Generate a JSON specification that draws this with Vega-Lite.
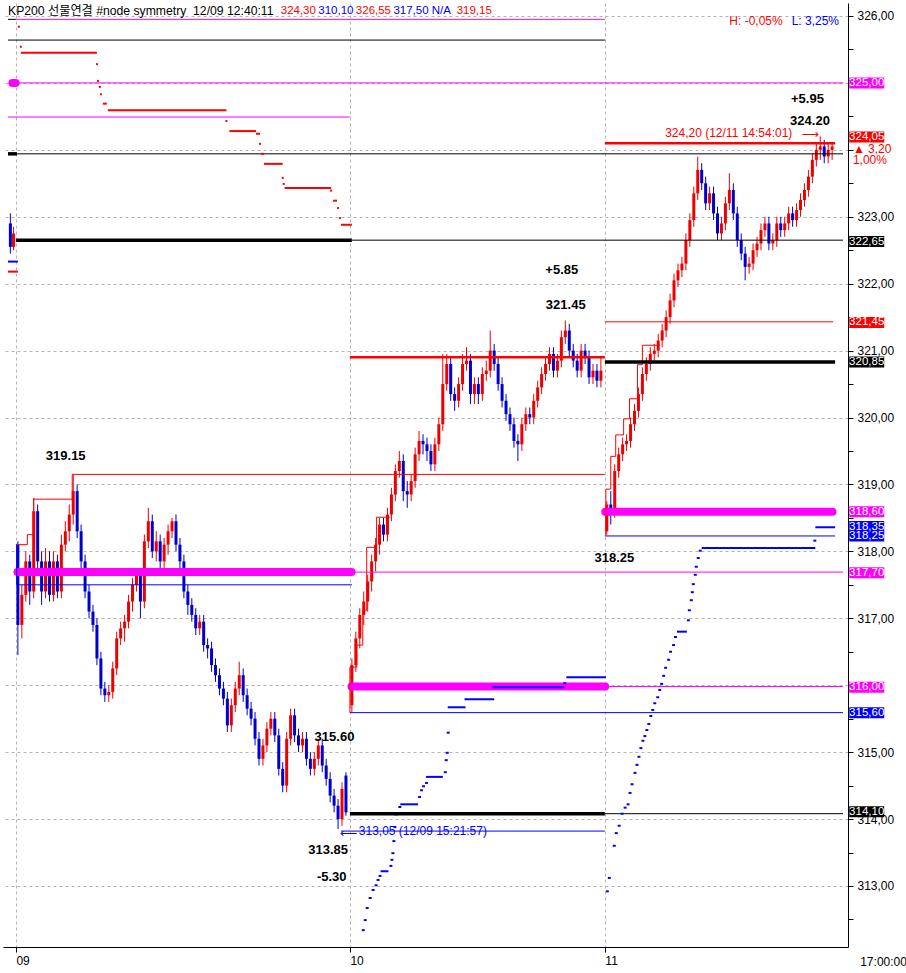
{
"$schema":"https://vega.github.io/schema/vega-lite/v6.json",
"width":845,"height":944,
"autosize":{"type":"none"},
"padding":{"left":3,"top":3,"right":58,"bottom":26},
"background":"white",
"config":{"view":{"stroke":null},"font":"Liberation Sans"},
"resolve":{"axis":{"x":"independent","y":"independent"}},
"datasets":{
"candles":[
{"x":-1.4,"o":322.90,"h":323.05,"l":322.45,"c":322.55},
{"x":-0.6,"o":322.55,"h":322.85,"l":322.50,"c":322.75},
{"x":0.5,"o":318.10,"h":318.15,"l":316.45,"c":316.90},
{"x":1.5,"o":316.90,"h":317.50,"l":316.70,"c":317.35},
{"x":2.5,"o":317.35,"h":318.00,"l":317.25,"c":317.85},
{"x":3.5,"o":317.85,"h":317.95,"l":317.20,"c":317.40},
{"x":4.5,"o":317.40,"h":318.80,"l":317.30,"c":318.60},
{"x":5.5,"o":318.60,"h":318.70,"l":317.70,"c":317.85},
{"x":6.5,"o":317.85,"h":318.00,"l":317.20,"c":317.40},
{"x":7.5,"o":317.40,"h":318.05,"l":317.30,"c":317.85},
{"x":8.5,"o":317.85,"h":318.00,"l":317.25,"c":317.35},
{"x":9.5,"o":317.35,"h":318.00,"l":317.25,"c":317.85},
{"x":10.5,"o":317.85,"h":317.95,"l":317.30,"c":317.40},
{"x":11.5,"o":317.40,"h":318.25,"l":317.30,"c":318.10},
{"x":12.5,"o":318.10,"h":318.45,"l":318.00,"c":318.30},
{"x":13.5,"o":318.30,"h":318.70,"l":318.15,"c":318.55},
{"x":14.5,"o":318.55,"h":319.15,"l":318.40,"c":318.90},
{"x":15.5,"o":318.90,"h":319.00,"l":318.20,"c":318.30},
{"x":16.5,"o":318.30,"h":318.40,"l":317.75,"c":317.85},
{"x":17.5,"o":317.85,"h":317.95,"l":317.30,"c":317.40},
{"x":18.5,"o":317.40,"h":317.50,"l":317.00,"c":317.10},
{"x":19.5,"o":317.10,"h":317.20,"l":316.80,"c":316.90},
{"x":20.5,"o":316.90,"h":317.00,"l":316.30,"c":316.40},
{"x":21.5,"o":316.40,"h":316.50,"l":315.85,"c":315.95},
{"x":22.5,"o":315.95,"h":316.05,"l":315.75,"c":315.85},
{"x":23.5,"o":315.85,"h":316.00,"l":315.75,"c":315.90},
{"x":24.5,"o":315.90,"h":316.35,"l":315.80,"c":316.25},
{"x":25.5,"o":316.25,"h":316.80,"l":316.15,"c":316.70},
{"x":26.5,"o":316.70,"h":316.95,"l":316.60,"c":316.85},
{"x":27.5,"o":316.85,"h":317.05,"l":316.65,"c":316.95},
{"x":28.5,"o":316.95,"h":317.35,"l":316.85,"c":317.25},
{"x":29.5,"o":317.25,"h":317.60,"l":317.10,"c":317.50},
{"x":30.5,"o":317.50,"h":317.75,"l":317.40,"c":317.65},
{"x":31.5,"o":317.65,"h":317.70,"l":317.00,"c":317.25},
{"x":32.5,"o":317.25,"h":318.25,"l":317.15,"c":318.15},
{"x":33.5,"o":318.15,"h":318.65,"l":318.05,"c":318.45},
{"x":34.5,"o":318.45,"h":318.55,"l":317.90,"c":318.00},
{"x":35.5,"o":318.00,"h":318.30,"l":317.85,"c":318.15},
{"x":36.5,"o":318.15,"h":318.25,"l":317.70,"c":317.85},
{"x":37.5,"o":317.85,"h":318.20,"l":317.75,"c":318.10},
{"x":38.5,"o":318.10,"h":318.40,"l":317.95,"c":318.30},
{"x":39.5,"o":318.30,"h":318.50,"l":318.20,"c":318.45},
{"x":40.5,"o":318.45,"h":318.55,"l":318.00,"c":318.10},
{"x":41.5,"o":318.10,"h":318.20,"l":317.75,"c":317.85},
{"x":42.5,"o":317.85,"h":317.95,"l":317.30,"c":317.40},
{"x":43.5,"o":317.40,"h":317.50,"l":317.05,"c":317.20},
{"x":44.5,"o":317.20,"h":317.30,"l":316.95,"c":317.05},
{"x":45.5,"o":317.05,"h":317.15,"l":316.75,"c":316.85},
{"x":46.5,"o":316.85,"h":317.05,"l":316.75,"c":316.95},
{"x":47.5,"o":316.95,"h":317.05,"l":316.50,"c":316.60},
{"x":48.5,"o":316.60,"h":316.70,"l":316.40,"c":316.55},
{"x":49.5,"o":316.55,"h":316.65,"l":316.20,"c":316.30},
{"x":50.5,"o":316.30,"h":316.40,"l":316.05,"c":316.15},
{"x":51.5,"o":316.15,"h":316.25,"l":315.85,"c":315.95},
{"x":52.5,"o":315.95,"h":316.05,"l":315.70,"c":315.80},
{"x":53.5,"o":315.80,"h":315.90,"l":315.30,"c":315.40},
{"x":54.5,"o":315.40,"h":315.80,"l":315.30,"c":315.70},
{"x":55.5,"o":315.70,"h":316.05,"l":315.60,"c":315.95},
{"x":56.5,"o":315.95,"h":316.35,"l":315.85,"c":316.15},
{"x":57.5,"o":316.15,"h":316.25,"l":315.75,"c":315.85},
{"x":58.5,"o":315.85,"h":315.95,"l":315.55,"c":315.65},
{"x":59.5,"o":315.65,"h":315.75,"l":315.40,"c":315.50},
{"x":60.5,"o":315.50,"h":315.60,"l":315.10,"c":315.20},
{"x":61.5,"o":315.20,"h":315.30,"l":314.80,"c":314.90},
{"x":62.5,"o":314.90,"h":315.20,"l":314.80,"c":315.10},
{"x":63.5,"o":315.10,"h":315.45,"l":315.00,"c":315.35},
{"x":64.5,"o":315.35,"h":315.60,"l":315.25,"c":315.50},
{"x":65.5,"o":315.50,"h":315.60,"l":315.15,"c":315.25},
{"x":66.5,"o":315.25,"h":315.35,"l":314.65,"c":314.75},
{"x":67.5,"o":314.75,"h":314.85,"l":314.40,"c":314.50},
{"x":68.5,"o":314.50,"h":315.30,"l":314.40,"c":315.20},
{"x":69.5,"o":315.20,"h":315.65,"l":315.10,"c":315.55},
{"x":70.5,"o":315.55,"h":315.65,"l":315.15,"c":315.25},
{"x":71.5,"o":315.25,"h":315.35,"l":315.00,"c":315.10},
{"x":72.5,"o":315.10,"h":315.30,"l":315.00,"c":315.20},
{"x":73.5,"o":315.20,"h":315.30,"l":314.80,"c":314.90},
{"x":74.5,"o":314.90,"h":315.00,"l":314.65,"c":314.75},
{"x":75.5,"o":314.75,"h":315.00,"l":314.65,"c":314.90},
{"x":76.5,"o":314.90,"h":315.20,"l":314.80,"c":315.10},
{"x":77.5,"o":315.10,"h":315.20,"l":314.70,"c":314.80},
{"x":78.5,"o":314.80,"h":314.90,"l":314.50,"c":314.60},
{"x":79.5,"o":314.60,"h":314.70,"l":314.25,"c":314.35},
{"x":80.5,"o":314.35,"h":314.45,"l":314.10,"c":314.20},
{"x":81.5,"o":314.20,"h":314.30,"l":313.85,"c":314.00},
{"x":82.5,"o":314.00,"h":314.55,"l":313.90,"c":314.45},
{"x":83.5,"o":314.65,"h":314.70,"l":314.05,"c":314.10},
{"x":85,"o":315.70,"h":316.40,"l":315.60,"c":316.30},
{"x":86,"o":316.30,"h":316.80,"l":316.20,"c":316.70},
{"x":87,"o":316.70,"h":317.15,"l":316.55,"c":317.05},
{"x":88,"o":317.05,"h":317.40,"l":316.90,"c":317.25},
{"x":89,"o":317.25,"h":317.65,"l":317.10,"c":317.55},
{"x":90,"o":317.55,"h":317.95,"l":317.40,"c":317.85},
{"x":91,"o":317.85,"h":318.20,"l":317.70,"c":318.10},
{"x":92,"o":318.10,"h":318.50,"l":317.95,"c":318.40},
{"x":93,"o":318.40,"h":318.50,"l":318.15,"c":318.25},
{"x":94,"o":318.25,"h":318.65,"l":318.15,"c":318.55},
{"x":95,"o":318.55,"h":318.95,"l":318.45,"c":318.85},
{"x":96,"o":318.85,"h":319.30,"l":318.75,"c":319.20},
{"x":97,"o":319.20,"h":319.50,"l":319.10,"c":319.35},
{"x":98,"o":319.35,"h":319.45,"l":318.75,"c":318.90},
{"x":99,"o":318.90,"h":319.05,"l":318.65,"c":318.85},
{"x":100,"o":318.85,"h":319.15,"l":318.75,"c":319.05},
{"x":101,"o":319.05,"h":319.55,"l":318.95,"c":319.45},
{"x":102,"o":319.45,"h":319.80,"l":319.35,"c":319.65},
{"x":103,"o":319.65,"h":319.75,"l":319.45,"c":319.60},
{"x":104,"o":319.60,"h":319.70,"l":319.35,"c":319.50},
{"x":105,"o":319.50,"h":319.60,"l":319.20,"c":319.30},
{"x":106,"o":319.30,"h":319.70,"l":319.20,"c":319.60},
{"x":107,"o":319.60,"h":320.00,"l":319.50,"c":319.90},
{"x":108,"o":319.90,"h":320.95,"l":319.80,"c":320.50},
{"x":109,"o":320.50,"h":320.95,"l":320.40,"c":320.80},
{"x":110,"o":320.80,"h":320.90,"l":320.25,"c":320.35},
{"x":111,"o":320.35,"h":320.45,"l":320.10,"c":320.25},
{"x":112,"o":320.25,"h":320.60,"l":320.15,"c":320.50},
{"x":113,"o":320.50,"h":320.95,"l":320.40,"c":320.80},
{"x":114,"o":320.80,"h":321.05,"l":320.70,"c":320.85},
{"x":115,"o":320.85,"h":320.95,"l":320.20,"c":320.35},
{"x":116,"o":320.35,"h":320.60,"l":320.20,"c":320.50},
{"x":117,"o":320.50,"h":320.60,"l":320.20,"c":320.35},
{"x":118,"o":320.35,"h":320.75,"l":320.25,"c":320.65},
{"x":119,"o":320.65,"h":320.85,"l":320.55,"c":320.70},
{"x":120,"o":320.70,"h":321.30,"l":320.60,"c":321.00},
{"x":121,"o":321.00,"h":321.10,"l":320.70,"c":320.80},
{"x":122,"o":320.80,"h":320.90,"l":320.40,"c":320.50},
{"x":123,"o":320.50,"h":320.60,"l":320.15,"c":320.25},
{"x":124,"o":320.25,"h":320.35,"l":319.95,"c":320.05},
{"x":125,"o":320.05,"h":320.15,"l":319.80,"c":319.90},
{"x":126,"o":319.90,"h":320.00,"l":319.55,"c":319.65},
{"x":127,"o":319.65,"h":319.75,"l":319.35,"c":319.60},
{"x":128,"o":319.60,"h":320.00,"l":319.50,"c":319.90},
{"x":129,"o":319.90,"h":320.15,"l":319.80,"c":320.05},
{"x":130,"o":320.05,"h":320.15,"l":319.90,"c":320.00},
{"x":131,"o":320.00,"h":320.35,"l":319.90,"c":320.25},
{"x":132,"o":320.25,"h":320.55,"l":320.15,"c":320.45},
{"x":133,"o":320.45,"h":320.75,"l":320.35,"c":320.65},
{"x":134,"o":320.65,"h":320.90,"l":320.55,"c":320.80},
{"x":135,"o":320.80,"h":321.05,"l":320.70,"c":320.95},
{"x":136,"o":320.95,"h":321.05,"l":320.60,"c":320.70},
{"x":137,"o":320.70,"h":320.95,"l":320.60,"c":320.85},
{"x":138,"o":320.85,"h":321.30,"l":320.75,"c":321.20},
{"x":139,"o":321.20,"h":321.45,"l":321.10,"c":321.30},
{"x":140,"o":321.30,"h":321.40,"l":320.90,"c":321.00},
{"x":141,"o":321.00,"h":321.10,"l":320.75,"c":320.85},
{"x":142,"o":320.85,"h":320.95,"l":320.60,"c":320.70},
{"x":143,"o":320.70,"h":321.10,"l":320.60,"c":321.00},
{"x":144,"o":321.00,"h":321.10,"l":320.80,"c":320.90},
{"x":145,"o":320.90,"h":321.00,"l":320.50,"c":320.60},
{"x":146,"o":320.60,"h":320.80,"l":320.50,"c":320.70},
{"x":147,"o":320.70,"h":320.80,"l":320.45,"c":320.55},
{"x":148,"o":320.55,"h":320.90,"l":320.45,"c":320.70},
{"x":149.5,"o":318.30,"h":318.75,"l":318.25,"c":318.70},
{"x":150.5,"o":318.70,"h":318.90,"l":318.40,"c":318.60},
{"x":151.5,"o":318.60,"h":319.30,"l":318.50,"c":319.20},
{"x":152.5,"o":319.20,"h":319.55,"l":319.10,"c":319.45},
{"x":153.5,"o":319.45,"h":319.70,"l":319.35,"c":319.60},
{"x":154.5,"o":319.60,"h":319.75,"l":319.50,"c":319.65},
{"x":155.5,"o":319.65,"h":320.00,"l":319.55,"c":319.90},
{"x":156.5,"o":319.90,"h":320.20,"l":319.80,"c":320.10},
{"x":157.5,"o":320.10,"h":320.45,"l":320.00,"c":320.35},
{"x":158.5,"o":320.35,"h":320.75,"l":320.25,"c":320.65},
{"x":159.5,"o":320.65,"h":320.90,"l":320.55,"c":320.80},
{"x":160.5,"o":320.80,"h":321.05,"l":320.70,"c":320.95},
{"x":161.5,"o":320.95,"h":321.10,"l":320.85,"c":321.00},
{"x":162.5,"o":321.00,"h":321.25,"l":320.90,"c":321.15},
{"x":163.5,"o":321.15,"h":321.40,"l":321.05,"c":321.30},
{"x":164.5,"o":321.30,"h":321.60,"l":321.20,"c":321.50},
{"x":165.5,"o":321.50,"h":321.85,"l":321.40,"c":321.75},
{"x":166.5,"o":321.75,"h":322.15,"l":321.65,"c":322.05},
{"x":167.5,"o":322.05,"h":322.30,"l":321.95,"c":322.20},
{"x":168.5,"o":322.20,"h":322.40,"l":322.10,"c":322.30},
{"x":169.5,"o":322.30,"h":322.75,"l":322.20,"c":322.65},
{"x":170.5,"o":322.65,"h":323.05,"l":322.55,"c":322.95},
{"x":171.5,"o":322.95,"h":323.45,"l":322.85,"c":323.35},
{"x":172.5,"o":323.35,"h":323.90,"l":323.25,"c":323.70},
{"x":173.5,"o":323.70,"h":323.80,"l":323.40,"c":323.50},
{"x":174.5,"o":323.50,"h":323.60,"l":323.10,"c":323.20},
{"x":175.5,"o":323.20,"h":323.45,"l":323.10,"c":323.35},
{"x":176.5,"o":323.35,"h":323.45,"l":322.95,"c":323.05},
{"x":177.5,"o":323.05,"h":323.15,"l":322.65,"c":322.75},
{"x":178.5,"o":322.75,"h":323.00,"l":322.65,"c":322.90},
{"x":179.5,"o":322.90,"h":323.30,"l":322.80,"c":323.20},
{"x":180.5,"o":323.20,"h":323.65,"l":323.10,"c":323.40},
{"x":181.5,"o":323.40,"h":323.50,"l":322.95,"c":323.05},
{"x":182.5,"o":323.05,"h":323.15,"l":322.55,"c":322.65},
{"x":183.5,"o":322.65,"h":322.75,"l":322.35,"c":322.45},
{"x":184.5,"o":322.45,"h":322.55,"l":322.05,"c":322.25},
{"x":185.5,"o":322.25,"h":322.40,"l":322.15,"c":322.30},
{"x":186.5,"o":322.30,"h":322.60,"l":322.20,"c":322.50},
{"x":187.5,"o":322.50,"h":322.70,"l":322.40,"c":322.60},
{"x":188.5,"o":322.60,"h":322.90,"l":322.50,"c":322.80},
{"x":189.5,"o":322.80,"h":323.00,"l":322.70,"c":322.90},
{"x":190.5,"o":322.90,"h":323.00,"l":322.50,"c":322.60},
{"x":191.5,"o":322.60,"h":322.75,"l":322.50,"c":322.65},
{"x":192.5,"o":322.65,"h":323.00,"l":322.55,"c":322.90},
{"x":193.5,"o":322.90,"h":323.00,"l":322.70,"c":322.80},
{"x":194.5,"o":322.80,"h":323.00,"l":322.70,"c":322.90},
{"x":195.5,"o":322.90,"h":323.15,"l":322.80,"c":323.05},
{"x":196.5,"o":323.05,"h":323.15,"l":322.85,"c":322.95},
{"x":197.5,"o":322.95,"h":323.20,"l":322.85,"c":323.10},
{"x":198.5,"o":323.10,"h":323.35,"l":323.00,"c":323.25},
{"x":199.5,"o":323.25,"h":323.50,"l":323.15,"c":323.40},
{"x":200.5,"o":323.40,"h":323.70,"l":323.30,"c":323.60},
{"x":201.5,"o":323.60,"h":323.95,"l":323.50,"c":323.85},
{"x":202.5,"o":323.85,"h":324.10,"l":323.75,"c":324.00},
{"x":203.5,"o":324.00,"h":324.20,"l":323.85,"c":324.05},
{"x":204.5,"o":324.05,"h":324.15,"l":323.80,"c":323.90},
{"x":205.5,"o":323.90,"h":324.10,"l":323.80,"c":324.00},
{"x":206.5,"o":324.00,"h":324.10,"l":323.85,"c":324.05}
],
"segs":[
{"s":"mid","x1":0,"x2":149,"y1":325.95,"y2":325.95},
{"s":"pivot","x1":-2,"x2":0,"y1":325.95,"y2":325.95},
{"s":"pivot","x1":-2,"x2":149,"y1":325.64,"y2":325.64},
{"s":"mid","x1":0.5,"x2":209.25,"y1":325.0,"y2":325.0},
{"s":"mid","x1":-2,"x2":84.5,"y1":324.49,"y2":324.49},
{"s":"pivot","x1":-2,"x2":209.25,"y1":323.94,"y2":323.94},
{"s":"pivot4","x1":-2,"x2":0.25,"y1":323.94,"y2":323.94},
{"s":"pivot4","x1":0,"x2":85,"y1":322.65,"y2":322.65},
{"s":"pivot","x1":85,"x2":209.25,"y1":322.65,"y2":322.65},
{"s":"lo2","x1":-2,"x2":0.5,"y1":322.33,"y2":322.33},
{"s":"hi2","x1":-2,"x2":0.5,"y1":322.18,"y2":322.18},
{"s":"hi","x1":0,"x2":2.9,"y1":318.10,"y2":318.10},
{"s":"hi","x1":2.9,"x2":2.9,"y1":318.10,"y2":318.25},
{"s":"hi","x1":2.9,"x2":4.5,"y1":318.25,"y2":318.25},
{"s":"hi","x1":4.5,"x2":4.5,"y1":318.25,"y2":318.78},
{"s":"hi","x1":4.5,"x2":14.25,"y1":318.78,"y2":318.78},
{"s":"hi","x1":14.25,"x2":14.25,"y1":318.78,"y2":319.15},
{"s":"hi","x1":14.25,"x2":149,"y1":319.15,"y2":319.15},
{"s":"lo","x1":0.2,"x2":0.2,"y1":318.10,"y2":317.50},
{"s":"lo","x1":0.2,"x2":85,"y1":317.50,"y2":317.50},
{"s":"mid","x1":85.75,"x2":209.25,"y1":317.69,"y2":317.69},
{"s":"hi3","x1":84.5,"x2":149,"y1":320.90,"y2":320.90},
{"s":"mid","x1":149.1,"x2":209.25,"y1":315.98,"y2":315.98},
{"s":"lo","x1":84.5,"x2":209.25,"y1":315.59,"y2":315.59},
{"s":"pivot4","x1":84.5,"x2":149,"y1":314.08,"y2":314.08},
{"s":"pivot","x1":149,"x2":209.25,"y1":314.08,"y2":314.08},
{"s":"lo","x1":82.25,"x2":149,"y1":313.82,"y2":313.82},
{"s":"hi3","x1":149,"x2":207.25,"y1":324.10,"y2":324.10},
{"s":"hi","x1":149,"x2":206.75,"y1":321.43,"y2":321.43},
{"s":"pivot4","x1":149,"x2":207.25,"y1":320.83,"y2":320.83},
{"s":"lo","x1":149,"x2":207.25,"y1":318.23,"y2":318.23},
{"s":"lo2","x1":202.25,"x2":207.25,"y1":318.36,"y2":318.36},
{"s":"hi","x1":84.5,"x2":84.5,"y1":315.59,"y2":316.27},
{"s":"hi","x1":84.5,"x2":86.25,"y1":316.27,"y2":316.27},
{"s":"hi","x1":86.25,"x2":86.25,"y1":316.27,"y2":316.60},
{"s":"hi","x1":86.25,"x2":87.75,"y1":316.60,"y2":316.60},
{"s":"hi","x1":87.75,"x2":87.75,"y1":316.60,"y2":317.12},
{"s":"hi","x1":87.75,"x2":88.75,"y1":317.12,"y2":317.12},
{"s":"hi","x1":88.75,"x2":88.75,"y1":317.12,"y2":318.06},
{"s":"hi","x1":88.75,"x2":91.25,"y1":318.06,"y2":318.06},
{"s":"hi","x1":91.25,"x2":91.25,"y1":318.06,"y2":318.51},
{"s":"hi","x1":91.25,"x2":94.75,"y1":318.51,"y2":318.51},
{"s":"hi","x1":149.25,"x2":149.25,"y1":318.23,"y2":318.93},
{"s":"hi","x1":149.25,"x2":150.5,"y1":318.93,"y2":318.93},
{"s":"hi","x1":150.5,"x2":150.5,"y1":318.93,"y2":319.42},
{"s":"hi","x1":150.5,"x2":151.75,"y1":319.42,"y2":319.42},
{"s":"hi","x1":151.75,"x2":151.75,"y1":319.42,"y2":319.74},
{"s":"hi","x1":151.75,"x2":153.75,"y1":319.74,"y2":319.74},
{"s":"hi","x1":153.75,"x2":153.75,"y1":319.74,"y2":319.98},
{"s":"hi","x1":153.75,"x2":155.25,"y1":319.98,"y2":319.98},
{"s":"hi","x1":155.25,"x2":155.25,"y1":319.98,"y2":320.28},
{"s":"hi","x1":155.25,"x2":157.25,"y1":320.28,"y2":320.28},
{"s":"hi","x1":157.25,"x2":157.25,"y1":320.28,"y2":320.79},
{"s":"hi","x1":157.25,"x2":158.5,"y1":320.79,"y2":320.79},
{"s":"hi","x1":158.5,"x2":158.5,"y1":320.79,"y2":321.08},
{"s":"hi","x1":158.5,"x2":163,"y1":321.08,"y2":321.08},
{"s":"midCap","x1":-0.9,"x2":-0.1,"y1":325.0,"y2":325.0},
{"s":"midCap","x1":0.4,"x2":84.9,"y1":317.69,"y2":317.69},
{"s":"midCap","x1":84.9,"x2":149.1,"y1":315.98,"y2":315.98},
{"s":"midCap","x1":149.1,"x2":206.6,"y1":318.59,"y2":318.59},
{"s":"rstep","x1":0.5,"x2":1,"y1":325.84,"y2":325.84},
{"s":"rstep","x1":1,"x2":1.5,"y1":325.54,"y2":325.54},
{"s":"rstep","x1":1.25,"x2":20.5,"y1":325.45,"y2":325.45},
{"s":"rstep","x1":20.25,"x2":20.75,"y1":325.28,"y2":325.28},
{"s":"rstep","x1":20.5,"x2":21,"y1":325.03,"y2":325.03},
{"s":"rstep","x1":21,"x2":21.5,"y1":324.94,"y2":324.94},
{"s":"rstep","x1":21.25,"x2":21.75,"y1":324.83,"y2":324.83},
{"s":"rstep","x1":22,"x2":23,"y1":324.69,"y2":324.69},
{"s":"rstep","x1":23.25,"x2":53.25,"y1":324.59,"y2":324.59},
{"s":"rstep","x1":53,"x2":53.5,"y1":324.43,"y2":324.43},
{"s":"rstep","x1":54,"x2":60.75,"y1":324.28,"y2":324.28},
{"s":"rstep","x1":60.75,"x2":61.75,"y1":324.24,"y2":324.24},
{"s":"rstep","x1":61.5,"x2":62,"y1":324.09,"y2":324.09},
{"s":"rstep","x1":62,"x2":62.75,"y1":323.94,"y2":323.94},
{"s":"rstep","x1":62.75,"x2":67.5,"y1":323.79,"y2":323.79},
{"s":"rstep","x1":67.25,"x2":67.75,"y1":323.58,"y2":323.58},
{"s":"rstep","x1":67.5,"x2":68,"y1":323.49,"y2":323.49},
{"s":"rstep","x1":68,"x2":79.75,"y1":323.43,"y2":323.43},
{"s":"rstep","x1":79.5,"x2":80,"y1":323.39,"y2":323.39},
{"s":"rstep","x1":80.25,"x2":81.25,"y1":323.24,"y2":323.24},
{"s":"rstep","x1":81.25,"x2":81.75,"y1":323.13,"y2":323.13},
{"s":"rstep","x1":81.75,"x2":82.25,"y1":322.98,"y2":322.98},
{"s":"rstep","x1":82.25,"x2":85,"y1":322.88,"y2":322.88},
{"s":"bstep","x1":87.5,"x2":88.25,"y1":312.34,"y2":312.34},
{"s":"bstep","x1":88,"x2":88.75,"y1":312.49,"y2":312.49},
{"s":"bstep","x1":88.5,"x2":89.25,"y1":312.67,"y2":312.67},
{"s":"bstep","x1":89.25,"x2":90,"y1":312.82,"y2":312.82},
{"s":"bstep","x1":90,"x2":90.75,"y1":312.94,"y2":312.94},
{"s":"bstep","x1":90.75,"x2":91.5,"y1":313.01,"y2":313.01},
{"s":"bstep","x1":91.25,"x2":92,"y1":313.09,"y2":313.09},
{"s":"bstep","x1":91.75,"x2":92.5,"y1":313.15,"y2":313.15},
{"s":"bstep","x1":92.25,"x2":94.25,"y1":313.22,"y2":313.22},
{"s":"bstep","x1":94.5,"x2":95.25,"y1":313.30,"y2":313.30},
{"s":"bstep","x1":94.75,"x2":95.5,"y1":313.39,"y2":313.39},
{"s":"bstep","x1":95,"x2":95.75,"y1":313.49,"y2":313.49},
{"s":"bstep","x1":95.25,"x2":96,"y1":313.67,"y2":313.67},
{"s":"bstep","x1":95.5,"x2":96.25,"y1":313.88,"y2":313.88},
{"s":"bstep","x1":95.75,"x2":96.75,"y1":314.07,"y2":314.07},
{"s":"bstep","x1":96.75,"x2":97.5,"y1":314.18,"y2":314.18},
{"s":"bstep","x1":97.25,"x2":101.75,"y1":314.22,"y2":314.22},
{"s":"bstep","x1":101.75,"x2":102.5,"y1":314.33,"y2":314.33},
{"s":"bstep","x1":102.25,"x2":103,"y1":314.43,"y2":314.43},
{"s":"bstep","x1":102.75,"x2":103.5,"y1":314.49,"y2":314.49},
{"s":"bstep","x1":103.5,"x2":104.25,"y1":314.54,"y2":314.54},
{"s":"bstep","x1":103.75,"x2":108,"y1":314.63,"y2":314.63},
{"s":"bstep","x1":108.25,"x2":109,"y1":314.70,"y2":314.70},
{"s":"bstep","x1":108.5,"x2":109.25,"y1":314.88,"y2":314.88},
{"s":"bstep","x1":108.75,"x2":109.5,"y1":314.99,"y2":314.99},
{"s":"bstep","x1":109,"x2":109.75,"y1":315.29,"y2":315.29},
{"s":"bstep","x1":109.25,"x2":113.75,"y1":315.67,"y2":315.67},
{"s":"bstep","x1":113.5,"x2":121,"y1":315.79,"y2":315.79},
{"s":"bstep","x1":120.5,"x2":138.75,"y1":315.97,"y2":315.97},
{"s":"bstep","x1":138.5,"x2":139.25,"y1":316.03,"y2":316.03},
{"s":"bstep","x1":139.25,"x2":149.25,"y1":316.12,"y2":316.12},
{"s":"bstep","x1":149.25,"x2":150,"y1":312.92,"y2":312.92},
{"s":"bstep","x1":149.75,"x2":150.5,"y1":313.12,"y2":313.12},
{"s":"bstep","x1":151,"x2":151.75,"y1":313.60,"y2":313.60},
{"s":"bstep","x1":151.5,"x2":152.25,"y1":313.79,"y2":313.79},
{"s":"bstep","x1":152.25,"x2":153,"y1":313.90,"y2":313.90},
{"s":"bstep","x1":153,"x2":153.75,"y1":314.08,"y2":314.08},
{"s":"bstep","x1":153.75,"x2":154.5,"y1":314.17,"y2":314.17},
{"s":"bstep","x1":154.5,"x2":155.25,"y1":314.22,"y2":314.22},
{"s":"bstep","x1":155,"x2":155.75,"y1":314.39,"y2":314.39},
{"s":"bstep","x1":155.5,"x2":156.25,"y1":314.52,"y2":314.52},
{"s":"bstep","x1":156.25,"x2":157,"y1":314.69,"y2":314.69},
{"s":"bstep","x1":156.75,"x2":157.5,"y1":314.81,"y2":314.81},
{"s":"bstep","x1":157.25,"x2":158,"y1":314.93,"y2":314.93},
{"s":"bstep","x1":157.75,"x2":158.5,"y1":315.06,"y2":315.06},
{"s":"bstep","x1":158.25,"x2":159,"y1":315.17,"y2":315.17},
{"s":"bstep","x1":158.75,"x2":159.5,"y1":315.24,"y2":315.24},
{"s":"bstep","x1":159.25,"x2":160,"y1":315.33,"y2":315.33},
{"s":"bstep","x1":159.75,"x2":160.5,"y1":315.42,"y2":315.42},
{"s":"bstep","x1":160.25,"x2":161,"y1":315.54,"y2":315.54},
{"s":"bstep","x1":160.75,"x2":161.5,"y1":315.63,"y2":315.63},
{"s":"bstep","x1":161.25,"x2":162,"y1":315.73,"y2":315.73},
{"s":"bstep","x1":162,"x2":162.75,"y1":315.82,"y2":315.82},
{"s":"bstep","x1":162.5,"x2":163.25,"y1":315.93,"y2":315.93},
{"s":"bstep","x1":163,"x2":163.75,"y1":316.02,"y2":316.02},
{"s":"bstep","x1":163.5,"x2":164.25,"y1":316.14,"y2":316.14},
{"s":"bstep","x1":164,"x2":164.75,"y1":316.26,"y2":316.26},
{"s":"bstep","x1":164.75,"x2":165.5,"y1":316.38,"y2":316.38},
{"s":"bstep","x1":165.25,"x2":166,"y1":316.50,"y2":316.50},
{"s":"bstep","x1":166,"x2":166.75,"y1":316.60,"y2":316.60},
{"s":"bstep","x1":166.5,"x2":167.25,"y1":316.72,"y2":316.72},
{"s":"bstep","x1":167.25,"x2":169.75,"y1":316.80,"y2":316.80},
{"s":"bstep","x1":169.75,"x2":170.5,"y1":316.97,"y2":316.97},
{"s":"bstep","x1":170,"x2":170.75,"y1":317.12,"y2":317.12},
{"s":"bstep","x1":170.5,"x2":171.25,"y1":317.27,"y2":317.27},
{"s":"bstep","x1":170.75,"x2":171.5,"y1":317.39,"y2":317.39},
{"s":"bstep","x1":171,"x2":171.75,"y1":317.51,"y2":317.51},
{"s":"bstep","x1":171.5,"x2":172.25,"y1":317.65,"y2":317.65},
{"s":"bstep","x1":171.75,"x2":172.5,"y1":317.77,"y2":317.77},
{"s":"bstep","x1":172.25,"x2":173,"y1":317.90,"y2":317.90},
{"s":"bstep","x1":172.75,"x2":173.5,"y1":318.01,"y2":318.01},
{"s":"bstep","x1":173.5,"x2":202.25,"y1":318.05,"y2":318.05},
{"s":"bstep","x1":201.75,"x2":202.5,"y1":318.16,"y2":318.16}
],
"boxes":[
{"y":325.0,"t":"325,00","k":"mid"},
{"y":324.19,"t":"324,05","k":"hi"},
{"y":322.63,"t":"322,65","k":"pivot"},
{"y":321.42,"t":"321,45","k":"hi"},
{"y":320.83,"t":"320,85","k":"pivot"},
{"y":318.59,"t":"318,60","k":"mid"},
{"y":318.37,"t":"318,35","k":"lo"},
{"y":318.23,"t":"318,25","k":"lo"},
{"y":317.68,"t":"317,70","k":"mid"},
{"y":315.97,"t":"316,00","k":"mid"},
{"y":315.59,"t":"315,60","k":"lo"},
{"y":314.11,"t":"314,10","k":"pivot"}
],
"ann":[
{"x":12.6,"y":319.43,"t":"319.15"},
{"x":80.6,"y":315.23,"t":"315.60"},
{"x":79,"y":313.54,"t":"313.85"},
{"x":79.9,"y":313.13,"t":"-5.30"},
{"x":138.1,"y":322.20,"t":"+5.85"},
{"x":139.1,"y":321.68,"t":"321.45"},
{"x":151.4,"y":317.90,"t":"318.25"},
{"x":200.25,"y":324.76,"t":"+5.95"},
{"x":200.9,"y":324.43,"t":"324.20"}
],
"notes":[
{"x":164.25,"y":324.25,"t":"324,20 (12/11 14:54:01)","tone":"hi"},
{"x":198.75,"y":324.24,"t":"⟶","tone":"hi"},
{"x":86.75,"y":313.82,"t":"313,05 (12/09 15:21:57)","tone":"lo"},
{"x":81.9,"y":313.79,"t":"⟵","tone":"lo"},
{"x":211.75,"y":324.01,"t":"▲ 3,20","tone":"hi"},
{"x":211.75,"y":323.85,"t":"1,00%","tone":"hi"},
{"x":213.6,"y":311.86,"t":"17:00:00","tone":"pivot"}
],
"vals":[
{"x":67,"y":326.075,"t":"324,30","tone":"hi"},
{"x":76.5,"y":326.075,"t":"310,10","tone":"lo"},
{"x":86,"y":326.075,"t":"326,55","tone":"hi"},
{"x":95.5,"y":326.075,"t":"317,50 N/A","tone":"lo"},
{"x":111.5,"y":326.075,"t":"319,15","tone":"hi"}
],
"title":[
{"x":-2,"y":326.075,"t":"KP200 선물연결 #node symmetry\u00a0 12/09 12:40:11"}
],
"corner":[
{"x":194,"y":325.92,"t":"H: -0,05%","tone":"hi"},
{"x":208.25,"y":325.92,"t":"L: 3,25%","tone":"lo"}
]
},
"layer":[
{"data":{"name":"candles"},"mark":{"type":"rule","strokeWidth":1},
"encoding":{
"x":{"field":"x","type":"quantitative","scale":{"domain":[-2,209.25],"nice":false,"zero":false},
"axis":{"orient":"bottom","values":[0,84.5,149],"labelExpr":"datum.value == 0 ? '09' : (datum.value < 100 ? '10' : '11')","title":null,"tickSize":5,"tickColor":"#000","domainColor":"#000","labelAlign":"left","labelDx":-4,"labelPadding":3,"labelFontSize":12,"labelFont":"Liberation Sans","labelColor":"#000","grid":true,"gridColor":"#b4b4b4","gridDash":[3,3],"labelFlush":false,"labelOverlap":false}},
"y":{"field":"l","type":"quantitative","scale":{"domain":[312.088,326.194],"nice":false,"zero":false},
"axis":{"orient":"right","values":[312.5,313,313.5,314,314.5,315,315.5,316,316.5,317,317.5,318,318.5,319,319.5,320,320.5,321,321.5,322,322.5,323,323.5,324,324.5,325,325.5,326],"title":null,"tickSize":5,"tickColor":"#000","domainColor":"#000","labelColor":"#000","labelFontSize":12,"labelFont":"Liberation Sans","labelPadding":4,"labelOverlap":false,"labelFlush":false,"labelBound":false,
"labelExpr":"(datum.value % 1 == 0 && datum.value != 324 && datum.value != 325 && datum.value != 316) ? replace(format(datum.value,'.2f'),'.',',') : ''",
"grid":true,"gridColor":"#b4b4b4","gridDash":[3,3],"gridOpacity":{"condition":{"test":"datum.value % 1 != 0","value":0},"value":1}}},
"y2":{"field":"h"},
"color":{"condition":{"test":"datum.c >= datum.o","value":"#ee0000"},"value":"#0000d0"}}},
{"data":{"name":"candles"},"mark":{"type":"bar","width":3},
"encoding":{
"x":{"field":"x","type":"quantitative","scale":{"domain":[-2,209.25],"nice":false,"zero":false},"axis":null},
"y":{"field":"o","type":"quantitative","scale":{"domain":[312.088,326.194],"nice":false,"zero":false},"axis":null},
"y2":{"field":"c"},
"color":{"condition":{"test":"datum.c >= datum.o","value":"#ee0000"},"value":"#0000d0"}}},
{"data":{"name":"segs"},"transform":[{"filter":{"field":"s","equal":"midCap"}}],
"mark":{"type":"rule","strokeWidth":8,"strokeCap":"round","color":"#ff00ff"},
"encoding":{
"x":{"field":"x1","type":"quantitative","scale":{"domain":[-2,209.25],"nice":false,"zero":false},"axis":null},
"x2":{"field":"x2"},
"y":{"field":"y1","type":"quantitative","scale":{"domain":[312.088,326.194],"nice":false,"zero":false},"axis":null},
"y2":{"field":"y2"}}},
{"data":{"name":"segs"},"transform":[{"filter":{"field":"s","oneOf":["hi","lo","pivot","mid"]}}],
"mark":{"type":"rule","strokeWidth":1},
"encoding":{
"x":{"field":"x1","type":"quantitative","scale":{"domain":[-2,209.25],"nice":false,"zero":false},"axis":null},
"x2":{"field":"x2"},
"y":{"field":"y1","type":"quantitative","scale":{"domain":[312.088,326.194],"nice":false,"zero":false},"axis":null},
"y2":{"field":"y2"},
"color":{"field":"s","type":"nominal","legend":null,"scale":{"domain":["hi","hi2","hi3","rstep","lo","lo2","bstep","pivot","pivot4","mid","midCap"],"range":["#ff0000","#ff0000","#ff0000","#ff0000","#0000ff","#0000ff","#0000ff","#000000","#000000","#ff00ff","#ff00ff"]}}}},
{"data":{"name":"segs"},"transform":[{"filter":{"field":"s","oneOf":["hi2","lo2","rstep","bstep"]}}],
"mark":{"type":"rule","strokeWidth":2},
"encoding":{
"x":{"field":"x1","type":"quantitative","scale":{"domain":[-2,209.25],"nice":false,"zero":false},"axis":null},
"x2":{"field":"x2"},
"y":{"field":"y1","type":"quantitative","scale":{"domain":[312.088,326.194],"nice":false,"zero":false},"axis":null},
"y2":{"field":"y2"},
"color":{"field":"s","type":"nominal","legend":null,"scale":{"domain":["hi","hi2","hi3","rstep","lo","lo2","bstep","pivot","pivot4","mid","midCap"],"range":["#ff0000","#ff0000","#ff0000","#ff0000","#0000ff","#0000ff","#0000ff","#000000","#000000","#ff00ff","#ff00ff"]}}}},
{"data":{"name":"segs"},"transform":[{"filter":{"field":"s","equal":"hi3"}}],
"mark":{"type":"rule","strokeWidth":2.5,"color":"#ff0000"},
"encoding":{
"x":{"field":"x1","type":"quantitative","scale":{"domain":[-2,209.25],"nice":false,"zero":false},"axis":null},
"x2":{"field":"x2"},
"y":{"field":"y1","type":"quantitative","scale":{"domain":[312.088,326.194],"nice":false,"zero":false},"axis":null},
"y2":{"field":"y2"}}},
{"data":{"name":"segs"},"transform":[{"filter":{"field":"s","equal":"pivot4"}}],
"mark":{"type":"rule","strokeWidth":3.5,"color":"#000000"},
"encoding":{
"x":{"field":"x1","type":"quantitative","scale":{"domain":[-2,209.25],"nice":false,"zero":false},"axis":null},
"x2":{"field":"x2"},
"y":{"field":"y1","type":"quantitative","scale":{"domain":[312.088,326.194],"nice":false,"zero":false},"axis":null},
"y2":{"field":"y2"}}},
{"data":{"name":"boxes"},
"mark":{"type":"tick","orient":"horizontal","size":35,"thickness":11,"opacity":1},
"encoding":{
"x":{"datum":215.25,"type":"quantitative","scale":{"domain":[-2,209.25],"nice":false,"zero":false},"axis":null},
"y":{"field":"y","type":"quantitative","scale":{"domain":[312.088,326.194],"nice":false,"zero":false},"axis":null},
"color":{"field":"k","type":"nominal","legend":null,"scale":{"domain":["hi","hi2","hi3","rstep","lo","lo2","bstep","pivot","pivot4","mid","midCap"],"range":["#ff0000","#ff0000","#ff0000","#ff0000","#0000ff","#0000ff","#0000ff","#000000","#000000","#ff00ff","#ff00ff"]}}}},
{"data":{"name":"boxes"},
"mark":{"type":"text","align":"center","baseline":"middle","fontSize":11.5,"font":"Liberation Sans","color":"#ffffff"},
"encoding":{
"x":{"datum":215.25,"type":"quantitative","scale":{"domain":[-2,209.25],"nice":false,"zero":false},"axis":null},
"y":{"field":"y","type":"quantitative","scale":{"domain":[312.088,326.194],"nice":false,"zero":false},"axis":null},
"text":{"field":"t"}}},
{"data":{"name":"ann"},
"mark":{"type":"text","align":"center","baseline":"middle","fontSize":13,"fontWeight":"bold","color":"#000000"},
"encoding":{
"x":{"field":"x","type":"quantitative","scale":{"domain":[-2,209.25],"nice":false,"zero":false},"axis":null},
"y":{"field":"y","type":"quantitative","scale":{"domain":[312.088,326.194],"nice":false,"zero":false},"axis":null},
"text":{"field":"t"}}},
{"data":{"name":"notes"},
"mark":{"type":"text","align":"left","baseline":"middle","fontSize":12,"font":"Liberation Sans, DejaVu Sans"},
"encoding":{
"x":{"field":"x","type":"quantitative","scale":{"domain":[-2,209.25],"nice":false,"zero":false},"axis":null},
"y":{"field":"y","type":"quantitative","scale":{"domain":[312.088,326.194],"nice":false,"zero":false},"axis":null},
"text":{"field":"t"},
"color":{"field":"tone","type":"nominal","legend":null,"scale":{"domain":["hi","hi2","hi3","rstep","lo","lo2","bstep","pivot","pivot4","mid","midCap"],"range":["#ff0000","#ff0000","#ff0000","#ff0000","#0000ff","#0000ff","#0000ff","#000000","#000000","#ff00ff","#ff00ff"]}}}},
{"data":{"name":"vals"},
"mark":{"type":"text","align":"left","baseline":"middle","fontSize":11.5,"font":"Liberation Sans"},
"encoding":{
"x":{"field":"x","type":"quantitative","scale":{"domain":[-2,209.25],"nice":false,"zero":false},"axis":null},
"y":{"field":"y","type":"quantitative","scale":{"domain":[312.088,326.194],"nice":false,"zero":false},"axis":null},
"text":{"field":"t"},
"color":{"field":"tone","type":"nominal","legend":null,"scale":{"domain":["hi","hi2","hi3","rstep","lo","lo2","bstep","pivot","pivot4","mid","midCap"],"range":["#ff0000","#ff0000","#ff0000","#ff0000","#0000ff","#0000ff","#0000ff","#000000","#000000","#ff00ff","#ff00ff"]}}}},
{"data":{"name":"title"},
"mark":{"type":"text","align":"left","baseline":"middle","fontSize":12.2,"font":"Liberation Sans, Noto Sans CJK KR","color":"#000000"},
"encoding":{
"x":{"field":"x","type":"quantitative","scale":{"domain":[-2,209.25],"nice":false,"zero":false},"axis":null},
"y":{"field":"y","type":"quantitative","scale":{"domain":[312.088,326.194],"nice":false,"zero":false},"axis":null},
"text":{"field":"t"}}},
{"data":{"name":"corner"},
"mark":{"type":"text","align":"right","baseline":"middle","fontSize":12,"font":"Liberation Sans"},
"encoding":{
"x":{"field":"x","type":"quantitative","scale":{"domain":[-2,209.25],"nice":false,"zero":false},"axis":null},
"y":{"field":"y","type":"quantitative","scale":{"domain":[312.088,326.194],"nice":false,"zero":false},"axis":null},
"text":{"field":"t"},
"color":{"field":"tone","type":"nominal","legend":null,"scale":{"domain":["hi","hi2","hi3","rstep","lo","lo2","bstep","pivot","pivot4","mid","midCap"],"range":["#ff0000","#ff0000","#ff0000","#ff0000","#0000ff","#0000ff","#0000ff","#000000","#000000","#ff00ff","#ff00ff"]}}}}
]
}
